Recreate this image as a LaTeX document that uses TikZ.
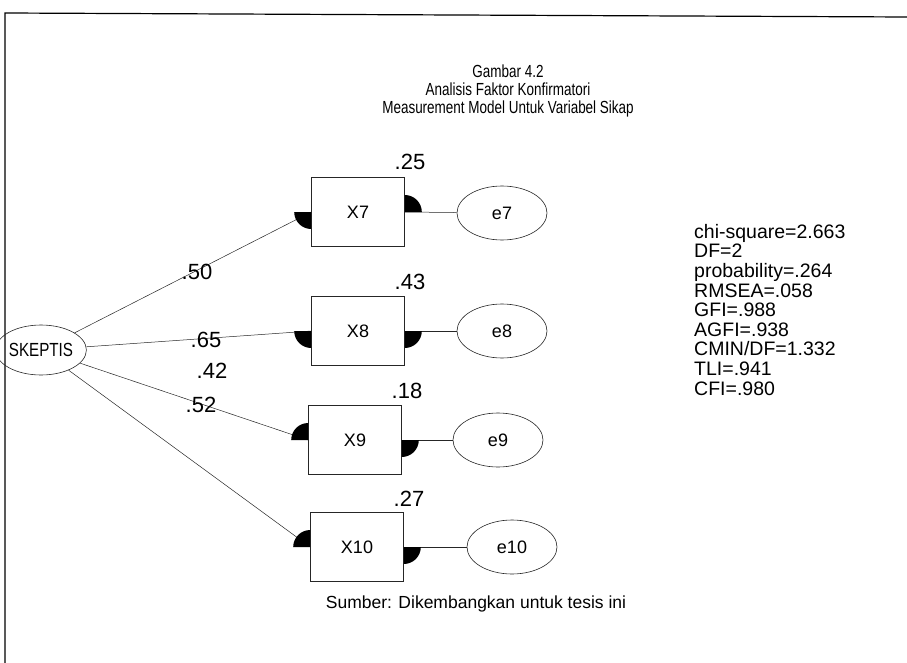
\documentclass[tikz,border=0pt]{standalone}
\usepackage{fontspec}
\setmainfont{Liberation Sans}
\newfontfamily\narrowtitle[FakeStretch=0.77]{Liberation Sans}
\newfontfamily\narrowlabel[FakeStretch=0.8]{Liberation Sans}
\usetikzlibrary{shapes.geometric}

\begin{document}
\begin{tikzpicture}[x=1pt,y=-1pt,
 txt/.style={inner sep=0pt,align=center},
 obs/.style={draw=black!85,line width=0.6pt,minimum width=93pt,minimum height=69pt,inner sep=0pt,font=\fontsize{18}{20}\selectfont},
 err/.style={ellipse,draw=black!85,line width=0.6pt,minimum width=90pt,minimum height=54pt,inner sep=0pt,font=\fontsize{18}{20}\selectfont},
 coef/.style={font=\fontsize{22}{24}\selectfont,inner sep=0pt},
 link/.style={draw=black!85,line width=0.5pt}]
\useasboundingbox (0,0) rectangle (907,663);
\draw[line width=1.2pt] (907,17) -- (5,13) -- (5,663);

\node[txt,font=\narrowtitle\fontsize{17.5}{18}\selectfont] (title) at (508,91) {Gambar 4.2\\Analisis Faktor Konfirmatori\\Measurement Model Untuk Variabel Sikap};

% latent variable and indicators
\node[ellipse,draw=black!85,line width=0.6pt,minimum width=78pt,minimum height=50pt,inner sep=0pt,font=\narrowlabel\fontsize{19}{20}\selectfont] (skeptis) at (41,350) {SKEPTIS};
\node[obs] (x7) at (358,212) {X7};
\node[obs] (x8) at (358,331) {X8};
\node[obs] (x9) at (355,440) {X9};
\node[obs] (x10) at (357,547) {X10};
\node[err] (e7) at (502,213) {e7};
\node[err] (e8) at (502,331) {e8};
\node[err] (e9) at (498,440) {e9};
\node[err] (e10) at (512,547) {e10};

\foreach \n/\a/\b in {7/90/270,8/90/0,9/180/0,10/180/0} {
 \draw[link] (skeptis) -- (x\n.west);
 \draw[link] (e\n) -- (x\n.east);
 \fill (x\n.west) -- ++(\a:17) arc[start angle=\a, end angle=\a+90, radius=17] -- cycle;
 \fill (x\n.east) -- ++(\b:17) arc[start angle=\b, end angle=\b+90, radius=17] -- cycle;
}

% estimates
\node[coef] (r7) at (410,162) {.25};
\node[coef] (r8) at (410,282) {.43};
\node[coef] (r9) at (407,391) {.18};
\node[coef] (r10) at (409,499) {.27};
\node[coef] (l7) at (197,272) {.50};
\node[coef] (l8) at (206,340) {.65};
\node[coef] (l9) at (212,371) {.42};
\node[coef] (l10) at (201,405) {.52};

\node[txt,align=left,anchor=north west,font=\fontsize{19.5}{19.6}\selectfont] (fit) at (694,224) {chi-square=2.663\\DF=2\\probability=.264\\RMSEA=.058\\GFI=.988\\AGFI=.938\\CMIN/DF=1.332\\TLI=.941\\CFI=.980};

\node[txt,font=\fontsize{17.5}{19}\selectfont] (src) at (476,604) {Sumber: Dikembangkan untuk tesis ini};
\end{tikzpicture}
\end{document}
